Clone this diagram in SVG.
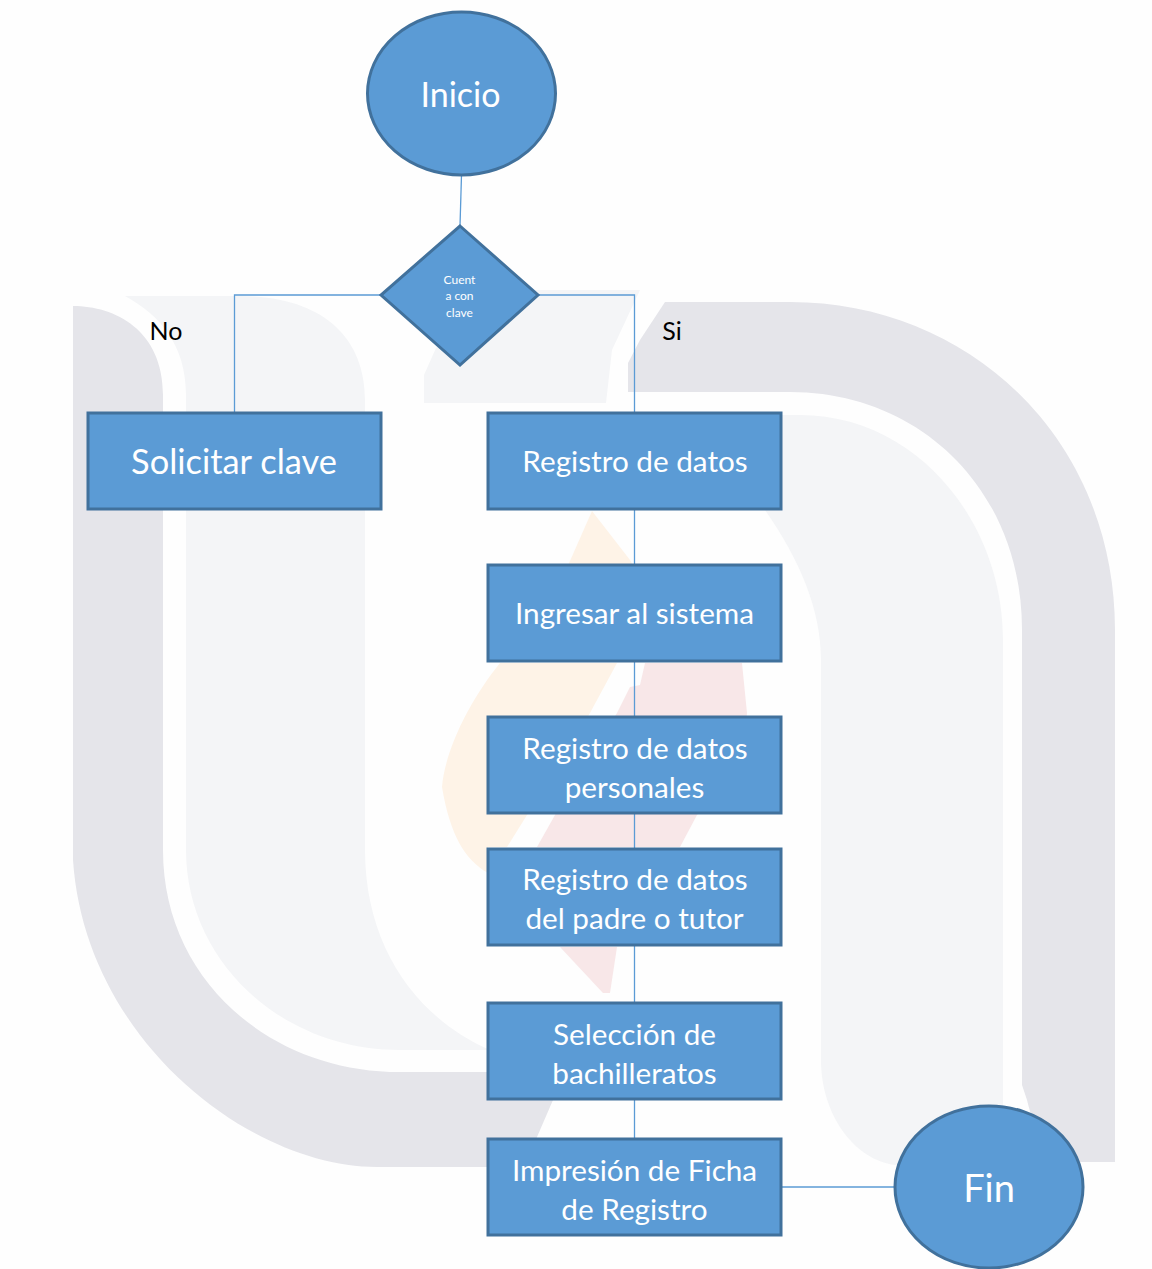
<svg xmlns="http://www.w3.org/2000/svg" width="1152" height="1269" viewBox="0 0 1152 1269">
<style>
.g{fill:#e5e5ea}.l{fill:#f4f5f7}.o{fill:#fef3e7}.p{fill:#f8e7e8}
.n{fill:#5b9bd5;stroke:#41719c;stroke-width:3}
.c{fill:none;stroke:#5b9bd5;stroke-width:1.3}
text{font-family:"Lato","Open Sans","Liberation Sans",sans-serif;text-anchor:middle}
.w{fill:#fff;font-size:29.700px}
.b{fill:#000;font-size:25px}
</style>
<rect width="1152" height="1269" fill="#fefefe"/>
<g id="watermark">
<path class="g" d="M73 306C115 306 163 330 163 395V850C163 980 270 1072 400 1072H555L553 1100L537 1137L530 1167H377C250 1167 85 1040 73 860Z"/>
<path class="g" d="M665 302H790C970 302 1115 440 1115 630V1162H1080C1050 1150 1035 1135 1027 1100L1022 1085V630C1022 490 920 392 790 392H628V363L640 340Z"/>
<path class="l" d="M125 296H240C320 296 365 335 365 400V850C365 950 420 1020 490 1050H400C280 1050 186 960 186 850V395C186 345 160 315 125 296Z"/>
<path class="l" d="M424 375L436 348L534 290H640L612 350L606 403H424Z"/>
<path class="l" d="M782 415H800C915 415 1003 520 1003 640V1150L895 1165C855 1160 821 1115 821 1060V660C821 610 800 560 765 510L782 510Z"/>
<path class="o" d="M592 511L630 560L636 570H566Z"/>
<path class="o" d="M500 663H617L590 713L527 815L507 847H488V873C465 860 450 835 442 787C445 750 470 700 500 663Z"/>
<path class="p" d="M645 663H742L747 713C745 750 720 790 697 815L680 847H537L555 815L617 713L630 687L640 685Z"/>
<path class="p" d="M560 947H617L610 993H603Z"/>
</g>
<g id="connectors">
<path class="c" d="M461.500 175L460 226"/>
<path class="c" d="M381 295H234.500V413"/>
<path class="c" d="M538 295H634.500V413"/>
<path class="c" d="M634.500 509V565"/>
<path class="c" d="M634.500 661V717"/>
<path class="c" d="M634.500 813V849"/>
<path class="c" d="M634.500 945V1003"/>
<path class="c" d="M634.500 1099V1139"/>
<path class="c" d="M781 1187H895"/>
</g>
<g id="inicio"><ellipse class="n" cx="461.500" cy="93.500" rx="94" ry="81.500"/><text class="w" x="460.500" y="107" style="font-size:34px">Inicio</text></g>
<g id="decision"><path class="n" d="M460 226L538 295L460 365L381 295Z"/><g fill="#fff" style="font-size:12px"><text x="459.500" y="284">Cuent</text><text x="459.500" y="300">a con</text><text x="459.500" y="317">clave</text></g></g>
<text class="b" x="166" y="340">No</text>
<text class="b" x="672" y="340">Si</text>
<g id="solicitar"><rect class="n" x="88" y="413" width="293" height="96"/><text class="w" x="234" y="474" style="font-size:34.400px">Solicitar clave</text></g>
<g id="registro"><rect class="n" x="488" y="413" width="293" height="96"/><text class="w" x="635" y="472">Registro de datos</text></g>
<g id="ingresar"><rect class="n" x="488" y="565" width="293" height="96"/><text class="w" x="634.500" y="624">Ingresar al sistema</text></g>
<g id="personales"><rect class="n" x="488" y="717" width="293" height="96"/><text class="w" x="635" y="759">Registro de datos</text><text class="w" x="634.500" y="798">personales</text></g>
<g id="padre"><rect class="n" x="488" y="849" width="293" height="96"/><text class="w" x="635" y="890">Registro de datos</text><text class="w" x="634.500" y="929">del padre o tutor</text></g>
<g id="seleccion"><rect class="n" x="488" y="1003" width="293" height="96"/><text class="w" x="634.500" y="1045">Selección de</text><text class="w" x="634.500" y="1084">bachilleratos</text></g>
<g id="impresion"><rect class="n" x="488" y="1139" width="293" height="96"/><text class="w" x="634.500" y="1181">Impresión de Ficha</text><text class="w" x="634.500" y="1220">de Registro</text></g>
<g id="fin"><ellipse class="n" cx="989" cy="1187" rx="94" ry="81"/><text class="w" x="989" y="1202" style="font-size:38px">Fin</text></g>
</svg>
